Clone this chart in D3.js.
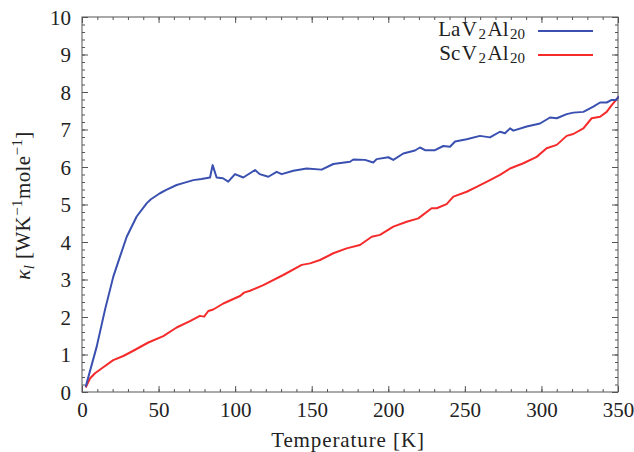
<!DOCTYPE html>
<html>
<head>
<meta charset="utf-8">
<script src="https://cdn.jsdelivr.net/npm/d3@7"></script>
<style>
  html, body { margin: 0; padding: 0; background: #fff; }
  #chart, #chart text { font-family: "Liberation Serif", serif; }
</style>
</head>
<body>
<svg id="chart" width="634" height="452"></svg>
<script>
// Lattice thermal conductivity vs temperature
const tempLa = [2.4, 9.6, 15, 20.4, 24.8, 29.2, 35.7, 42.2, 45, 50.9, 55, 61.8, 66, 72.7, 78, 83.6, 85.3, 87.9, 92, 95.5, 99.9, 105.3, 113, 116,
  121.7, 127.1, 130.4, 138, 146.7, 156.5, 164.1, 175, 177.2, 184.8, 190.2, 192.4, 200, 203.3, 209.8, 217.4, 220.7, 224,
  230.5, 235.9, 240.3, 243.6, 251.2, 259.9, 266.4, 272.9, 276.2, 279.5, 281.7, 290.4, 299.1, 305.6, 310, 316.5, 320.8,
  327.4, 333.9, 338.3, 342.6, 345.9, 348.7, 350.6];
const kappaLa = [0.14, 1.21, 2.19, 3.07, 3.61, 4.14, 4.68, 5.03, 5.14, 5.30, 5.39, 5.52, 5.57, 5.65, 5.68, 5.72, 6.05, 5.72, 5.70, 5.61, 5.81, 5.72, 5.92, 5.81,
  5.74, 5.87, 5.81, 5.90, 5.96, 5.93, 6.08, 6.14, 6.20, 6.19, 6.12, 6.21, 6.26, 6.19, 6.36, 6.44, 6.52, 6.45,
  6.45, 6.56, 6.54, 6.68, 6.74, 6.83, 6.79, 6.94, 6.90, 7.03, 6.97, 7.08, 7.16, 7.32, 7.30, 7.41, 7.45,
  7.47, 7.61, 7.72, 7.72, 7.79, 7.79, 7.88];

const tempSc = [2.4, 5.2, 8.5, 13.9, 20.4, 27, 33.5, 43.3, 53.1, 61.8, 70.5, 77, 79.7, 82.5, 85.7, 92.3, 103.2, 105.8, 109.7,
  118.4, 131.4, 143.5, 148.9, 155.4, 164.1, 172.8, 181.5, 189.2, 194.6, 203.3, 212, 219.6, 228.3, 231.6, 238.1,
  242.5, 251.2, 257.7, 266.4, 272.9, 279.5, 288.2, 296.9, 303.4, 310, 316.5, 320.8, 327.4, 332.8, 338.3, 342.6, 345.9, 350.6];
const kappaSc = [0.12, 0.36, 0.50, 0.66, 0.85, 0.96, 1.10, 1.32, 1.49, 1.72, 1.89, 2.03, 2.01, 2.16, 2.20, 2.36, 2.56, 2.65, 2.70,
  2.85, 3.12, 3.39, 3.43, 3.52, 3.70, 3.83, 3.92, 4.14, 4.19, 4.41, 4.54, 4.63, 4.90, 4.90, 5.01,
  5.21, 5.34, 5.47, 5.65, 5.79, 5.96, 6.10, 6.27, 6.50, 6.59, 6.83, 6.88, 7.03, 7.30, 7.34, 7.47, 7.65, 7.88];

const xTicks = [0, 50, 100, 150, 200, 250, 300, 350];
const yTicks = [0, 1, 2, 3, 4, 5, 6, 7, 8, 9, 10];
const seriesNames = ["LaV2Al20", "ScV2Al20"];
const seriesColors = ["#3a50b0", "#f52b2b"];

const FONT = "Liberation Serif";
const svg = d3.select("#chart");
const margin = { left: 82, top: 17, right: 16, bottom: 60 };
const W = 634, H = 452;
const x = d3.scaleLinear().domain([0, 350]).range([margin.left, W - margin.right]);
const y = d3.scaleLinear().domain([0, 10]).range([H - margin.bottom, margin.top]);
const axisColor = "#555";
const textColor = "#222";

// minor/major ticks on all four sides, pointing inward
const xMinor = d3.range(0, 351, 10);
const yMinor = d3.range(0, 10.01, 0.2);

function styleAxis(g) {
  g.attr("font-family", FONT).style("font-family", FONT);
  g.select(".domain").remove();
  g.selectAll(".tick line").attr("stroke", axisColor).attr("stroke-width", 1);
}

svg.append("g").attr("transform", `translate(0,${y(0)})`)
  .call(d3.axisBottom(x).tickValues(xMinor).tickSize(-3).tickFormat(""))
  .call(styleAxis).selectAll("text").remove();
svg.append("g").attr("transform", `translate(0,${y(10)})`)
  .call(d3.axisTop(x).tickValues(xMinor).tickSize(-3).tickFormat(""))
  .call(styleAxis).selectAll("text").remove();
svg.append("g").attr("transform", `translate(${x(0)},0)`)
  .call(d3.axisLeft(y).tickValues(yMinor).tickSize(-3).tickFormat(""))
  .call(styleAxis).selectAll("text").remove();
svg.append("g").attr("transform", `translate(${x(350)},0)`)
  .call(d3.axisRight(y).tickValues(yMinor).tickSize(-3).tickFormat(""))
  .call(styleAxis).selectAll("text").remove();

// major ticks with labels
const gx = svg.append("g").attr("transform", `translate(0,${y(0)})`)
  .call(d3.axisBottom(x).tickValues(xTicks).tickSize(-6).tickFormat(d3.format("d")))
  .call(styleAxis);
gx.selectAll(".tick text").attr("y", 25).attr("dy", 0)
  .style("font-family", FONT).attr("font-size", 21).attr("fill", textColor);

const gy = svg.append("g").attr("transform", `translate(${x(0)},0)`)
  .call(d3.axisLeft(y).tickValues(yTicks).tickSize(-6).tickFormat(d3.format("d")))
  .call(styleAxis);
gy.selectAll(".tick text").attr("x", -11).attr("dy", "0.34em")
  .style("font-family", FONT).attr("font-size", 21).attr("fill", textColor);

svg.append("g").attr("transform", `translate(0,${y(10)})`)
  .call(d3.axisTop(x).tickValues(xTicks).tickSize(-6).tickFormat(""))
  .call(styleAxis).selectAll("text").remove();
svg.append("g").attr("transform", `translate(${x(350)},0)`)
  .call(d3.axisRight(y).tickValues(yTicks).tickSize(-6).tickFormat(""))
  .call(styleAxis).selectAll("text").remove();

// frame
svg.append("rect")
  .attr("x", x(0)).attr("y", y(10))
  .attr("width", x(350) - x(0)).attr("height", y(0) - y(10))
  .attr("fill", "none").attr("stroke", axisColor).attr("stroke-width", 1);

// curves
svg.append("clipPath").attr("id", "plotClip").append("rect")
  .attr("x", x(0)).attr("y", y(10))
  .attr("width", x(350) - x(0) + 1).attr("height", y(0) - y(10));

const line = d3.line().x(d => x(d[0])).y(d => y(d[1]));
const seriesData = [
  d3.zip(tempLa, kappaLa),
  d3.zip(tempSc, kappaSc)
];
// draw ScV2Al20 first so LaV2Al20 sits above it
[1, 0].forEach(i => {
  svg.append("path")
    .datum(seriesData[i])
    .attr("clip-path", "url(#plotClip)")
    .attr("fill", "none")
    .attr("stroke", seriesColors[i])
    .attr("stroke-width", 2)
    .attr("stroke-linejoin", "round")
    .attr("d", line);
});

// legend: chemical formulas laid out piece by piece, subscripts as separate texts
const legendY = [36, 60];
seriesNames.forEach((name, i) => {
  const g = svg.append("g");
  const parts = name.match(/[A-Z][a-z]?|\d+/g);
  let cx = 0;
  parts.forEach((p, k) => {
    const sub = /^\d+$/.test(p);
    const t = g.append("text")
      .attr("x", cx).attr("y", legendY[i] + (sub ? 3 : 0))
      .style("font-family", FONT)
      .attr("font-size", sub ? 15 : 21)
      .attr("fill", textColor)
      .text(p);
    cx += t.node().getComputedTextLength() + (k < parts.length - 1 ? 1.5 : 0);
  });
  g.attr("transform", `translate(${525 - cx},0)`);
  svg.append("line")
    .attr("x1", 538).attr("x2", 593)
    .attr("y1", legendY[i] - 5).attr("y2", legendY[i] - 5)
    .attr("stroke", seriesColors[i]).attr("stroke-width", 2);
});

// axis titles
svg.append("text")
  .attr("x", (x(0) + x(350)) / 2 - 2).attr("y", 447)
  .attr("text-anchor", "middle")
  .attr("letter-spacing", 0.9)
  .style("font-family", FONT).attr("font-size", 21).attr("fill", textColor)
  .text("Temperature [K]");

const yl = svg.append("text")
  .attr("transform", `translate(30,${(y(0) + y(10)) / 2 + 1}) rotate(-90)`)
  .attr("text-anchor", "middle")
  .attr("letter-spacing", 0.4)
  .style("font-family", FONT).attr("font-size", 21).attr("fill", textColor);
yl.append("tspan").text("κ").attr("font-style", "italic");
yl.append("tspan").text("l").attr("font-style", "italic").attr("font-size", 15).attr("baseline-shift", "-25%");
yl.append("tspan").text(" [WK");
yl.append("tspan").text("−1").attr("font-size", 15).attr("baseline-shift", "super");
yl.append("tspan").text("mole");
yl.append("tspan").text("−1").attr("font-size", 15).attr("baseline-shift", "super");
yl.append("tspan").text("]");
</script>
</body>
</html>
